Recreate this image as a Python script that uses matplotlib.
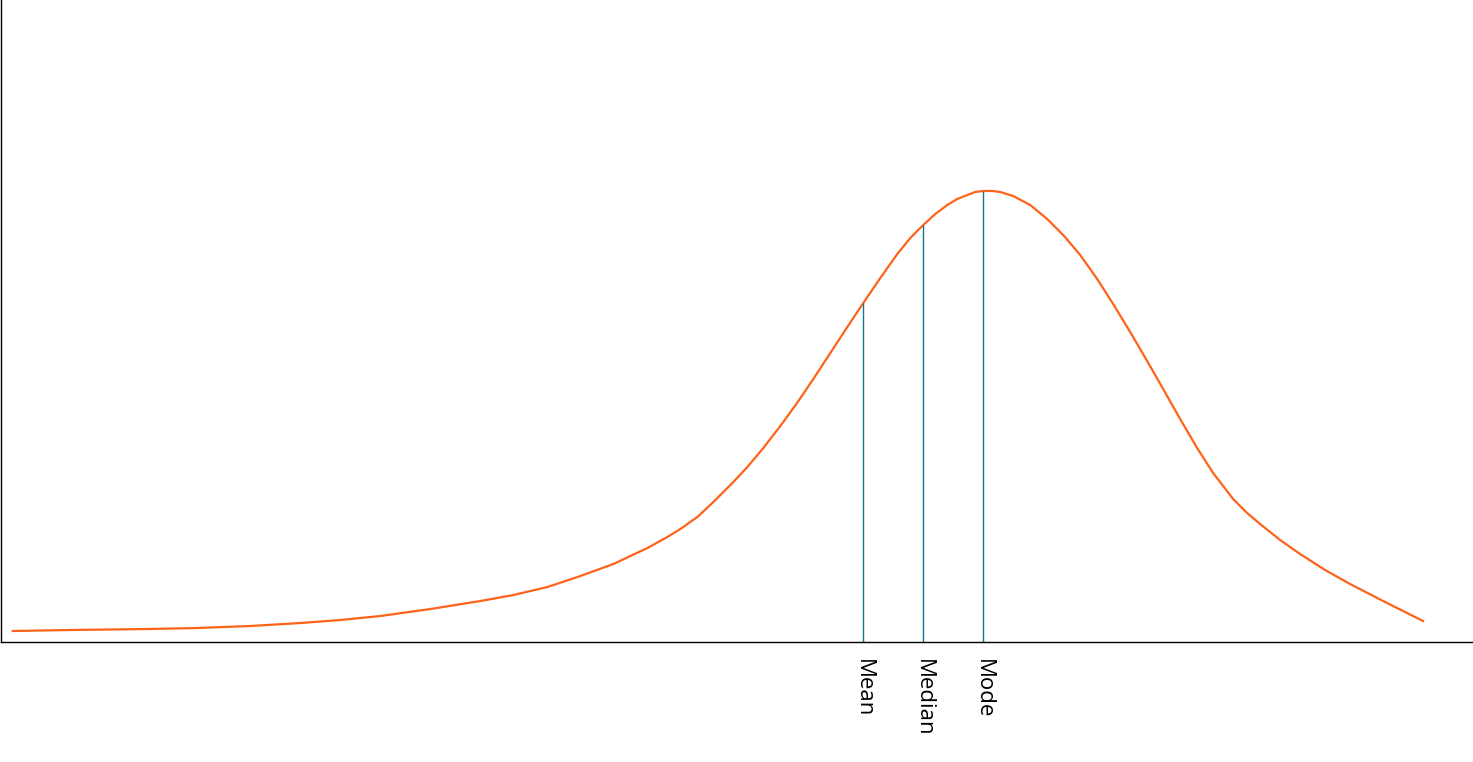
import numpy as np
import matplotlib
matplotlib.use("Agg")
import matplotlib.pyplot as plt

# curve (x position, height above the baseline)
curve_x = [12, 70, 148, 197, 250, 300, 340, 380, 430, 480, 513, 547, 580, 613,
           647, 667, 680, 697, 713, 733, 747, 763, 780, 796, 813, 830, 847, 863,
           880, 897, 910, 923, 935, 947, 957, 967, 975, 983, 992, 1000, 1013,
           1030, 1047, 1063, 1080, 1097, 1113, 1130, 1147, 1163, 1180, 1197,
           1213, 1233, 1247, 1260, 1280, 1300, 1325, 1350, 1385, 1423]
curve_y = [11, 12, 13, 14, 16, 19, 22, 26, 33, 41, 47, 55, 66, 78,
           94, 105, 113, 125, 140, 160, 175, 194, 216, 238, 263, 289, 315, 339,
           364, 388, 404, 417, 428, 437, 443, 447, 450, 451, 451, 450, 446,
           437, 423, 407, 387, 363, 338, 310, 281, 253, 223, 194,
           169, 143, 129, 118, 102, 88, 72, 58, 40, 21]

stat_labels = ["Mean", "Median", "Mode"]
stat_x = [863, 923, 983]
stat_y = [339, 417, 451]

plt.rcParams['font.family'] = ['Open Sans', 'DejaVu Sans']

fig = plt.figure(figsize=(14.73, 7.62), dpi=100)
ax = fig.add_axes([0.0005, 120 / 762, 0.9995, 642 / 762])

ax.plot(curve_x, curve_y, color="#ff6319", lw=1.6, solid_joinstyle="round")
ax.vlines(stat_x, 0, stat_y, color="#127a90", lw=1.0)

ax.set_xlim(0, 1473)
ax.set_ylim(0, 642)
ax.set_yticks([])
ax.set_xticks(stat_x)
ax.set_xticklabels(stat_labels, rotation=270, fontsize=16, va="top", ha="center")
ax.tick_params(axis="x", length=0, pad=12)

ax.spines["top"].set_visible(False)
ax.spines["right"].set_visible(False)
ax.spines["left"].set_linewidth(1.0)
ax.spines["bottom"].set_linewidth(1.0)

fig.savefig("out.png", dpi=100)
